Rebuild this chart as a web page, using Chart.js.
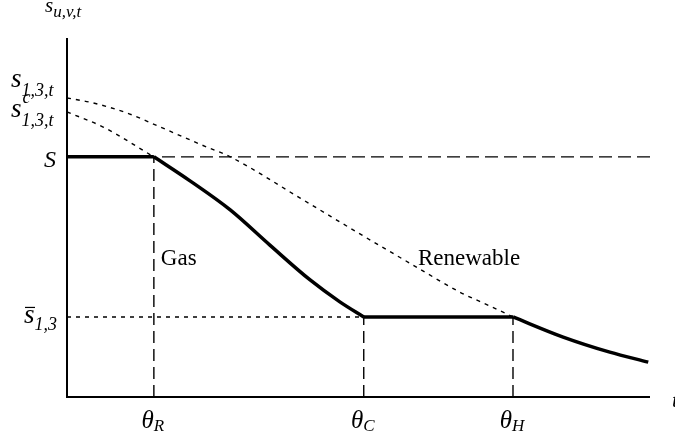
<!DOCTYPE html>
<html>
<head>
<meta charset="utf-8">
<style>
  body { margin: 0; background: #fff; }
</style>
</head>
<body>
<canvas id="supplyChart" width="675" height="439"></canvas>

<script src="https://cdn.jsdelivr.net/npm/chart.js"></script>
<script>
// values (x: 0..100 time units, y: 0..100 level units)
const levelS = 66.9;
const levelSbar = 22.3;
const thetaX = [14.9, 50.9, 76.5];
const thetaSubs = ['R', 'C', 'H'];

// thick supply curve, piece between theta_R and theta_C, and tail after theta_H
const dropX = [14.9, 21.1, 28.0, 34.8, 41.7, 46.8, 50.9];
const dropY = [66.9, 60.2, 52.1, 42.3, 32.6, 26.5, 22.3];
const tailX = [76.5, 85.1, 93.1, 99.7];
const tailY = [22.3, 16.7, 12.5, 9.7];

// dotted curves
const renewX = [0, 4.5, 10.3, 16.0, 24.0, 28.0, 40.0, 51.1, 59.3, 67.4, 72.6, 76.5];
const renewY = [83.3, 81.9, 79.1, 75.2, 69.6, 66.9, 55.4, 44.6, 36.8, 29.2, 25.3, 22.3];

const capX = [0, 6.2, 14.9];
const capY = [79.4, 75.2, 66.9];

const pts = (xs, ys) => xs.map((x, i) => ({x: x, y: ys[i]}));

const ctx = document.getElementById('supplyChart').getContext('2d');

const serif = '"Liberation Serif", "Times New Roman", serif';

// axes and math labels
const labelPlugin = {
    id: 'labels',
    afterDraw(chart) {
        const c = chart.ctx;
        const a = chart.chartArea;
        const xs = chart.scales.x;
        const ys = chart.scales.y;
        c.save();
        c.strokeStyle = '#000';
        c.lineWidth = 2;
        c.beginPath();
        c.moveTo(a.left, a.top);
        c.lineTo(a.left, a.bottom);
        c.lineTo(a.right, a.bottom);
        c.stroke();

        c.fillStyle = '#000';
        c.textBaseline = 'alphabetic';
        c.textAlign = 'left';

        function sym(x, y, main, size, sub, subSize, subDy, sup) {
            c.font = 'italic ' + size + 'px ' + serif;
            c.fillText(main, x, y);
            const w = c.measureText(main).width;
            c.font = 'italic ' + subSize + 'px ' + serif;
            if (sub) c.fillText(sub, x + w, y + subDy);
            if (sup) c.fillText(sup, x + w + 1, y - 14);
            return w;
        }

        // y axis title
        sym(a.left - 22, a.top - 26, 's', 21, 'u,v,t', 17, 5);
        // y-side labels
        const pTop = ys.getPixelForValue(renewY[0]);
        sym(11, pTop - 11, 's', 27, '1,3,t', 18, 9);
        const pCap = ys.getPixelForValue(capY[0]);
        sym(11, pCap + 5, 's', 27, '1,3,t', 18, 9, 'c');
        c.font = 'italic 24px ' + serif;
        c.fillText('S', 44, ys.getPixelForValue(levelS) + 10);
        const pBar = ys.getPixelForValue(levelSbar);
        sym(24, pBar + 6, 's', 27, '1,3', 18, 7);
        c.lineWidth = 1.2;
        c.beginPath();
        c.moveTo(25, pBar - 9.5);
        c.lineTo(35, pBar - 9.5);
        c.stroke();

        // theta labels
        thetaX.forEach((v, i) => {
            const px = xs.getPixelForValue(v);
            c.font = 'italic 25px ' + serif;
            const w1 = c.measureText('\u03B8').width;
            c.font = 'italic 17px ' + serif;
            const w2 = c.measureText(thetaSubs[i]).width;
            sym(px - (w1 + w2) / 2 - 1, a.bottom + 31, '\u03B8', 25, thetaSubs[i], 17, 3);
        });

        c.font = 'italic 22px ' + serif;
        c.fillText('t', a.right + 22, a.bottom + 10);

        // region names
        c.font = '23px ' + serif;
        c.fillText('Gas', xs.getPixelForValue(thetaX[0]) + 7, 265);
        c.fillText('Renewable', 418, 265);
        c.restore();
    }
};

const thin = {pointRadius: 0, borderColor: '#000', fill: false, borderWidth: 1.4};
const thick = {pointRadius: 0, borderColor: '#000', fill: false, borderWidth: 3.5, cubicInterpolationMode: 'monotone'};

const chart = new Chart(ctx, {
    type: 'line',
    data: {
        datasets: [
            Object.assign({label: 'S', data: pts([0, 100], [levelS, levelS]), borderDash: [13, 6]}, thin),
            Object.assign({label: 'sbar', data: pts([0, thetaX[1]], [levelSbar, levelSbar]), borderDash: [4, 5]}, thin),
            Object.assign({label: 'thetaR', data: pts([thetaX[0], thetaX[0]], [0, levelS]), borderDash: [12, 6]}, thin),
            Object.assign({label: 'thetaC', data: pts([thetaX[1], thetaX[1]], [0, levelSbar]), borderDash: [12, 6]}, thin),
            Object.assign({label: 'thetaH', data: pts([thetaX[2], thetaX[2]], [0, levelSbar]), borderDash: [12, 6]}, thin),
            Object.assign({label: 'renewable', data: pts(renewX, renewY), borderDash: [4, 5], cubicInterpolationMode: 'monotone'}, thin),
            Object.assign({label: 'cap', data: pts(capX, capY), borderDash: [4, 5], cubicInterpolationMode: 'monotone'}, thin),
            Object.assign({label: 'flat1', data: pts([0, thetaX[0]], [levelS, levelS])}, thick),
            Object.assign({label: 'drop', data: pts(dropX, dropY)}, thick),
            Object.assign({label: 'flat2', data: pts([thetaX[1], thetaX[2]], [levelSbar, levelSbar])}, thick),
            Object.assign({label: 'tail', data: pts(tailX, tailY)}, thick)
        ]
    },
    options: {
        responsive: false,
        animation: false,
        layout: { padding: { left: 67, right: 25, top: 38, bottom: 42 } },
        plugins: { legend: { display: false }, tooltip: { enabled: false } },
        scales: {
            x: { type: 'linear', min: 0, max: 100, display: false },
            y: { type: 'linear', min: 0, max: 100, display: false }
        }
    },
    plugins: [labelPlugin]
});
</script>
</body>
</html>
